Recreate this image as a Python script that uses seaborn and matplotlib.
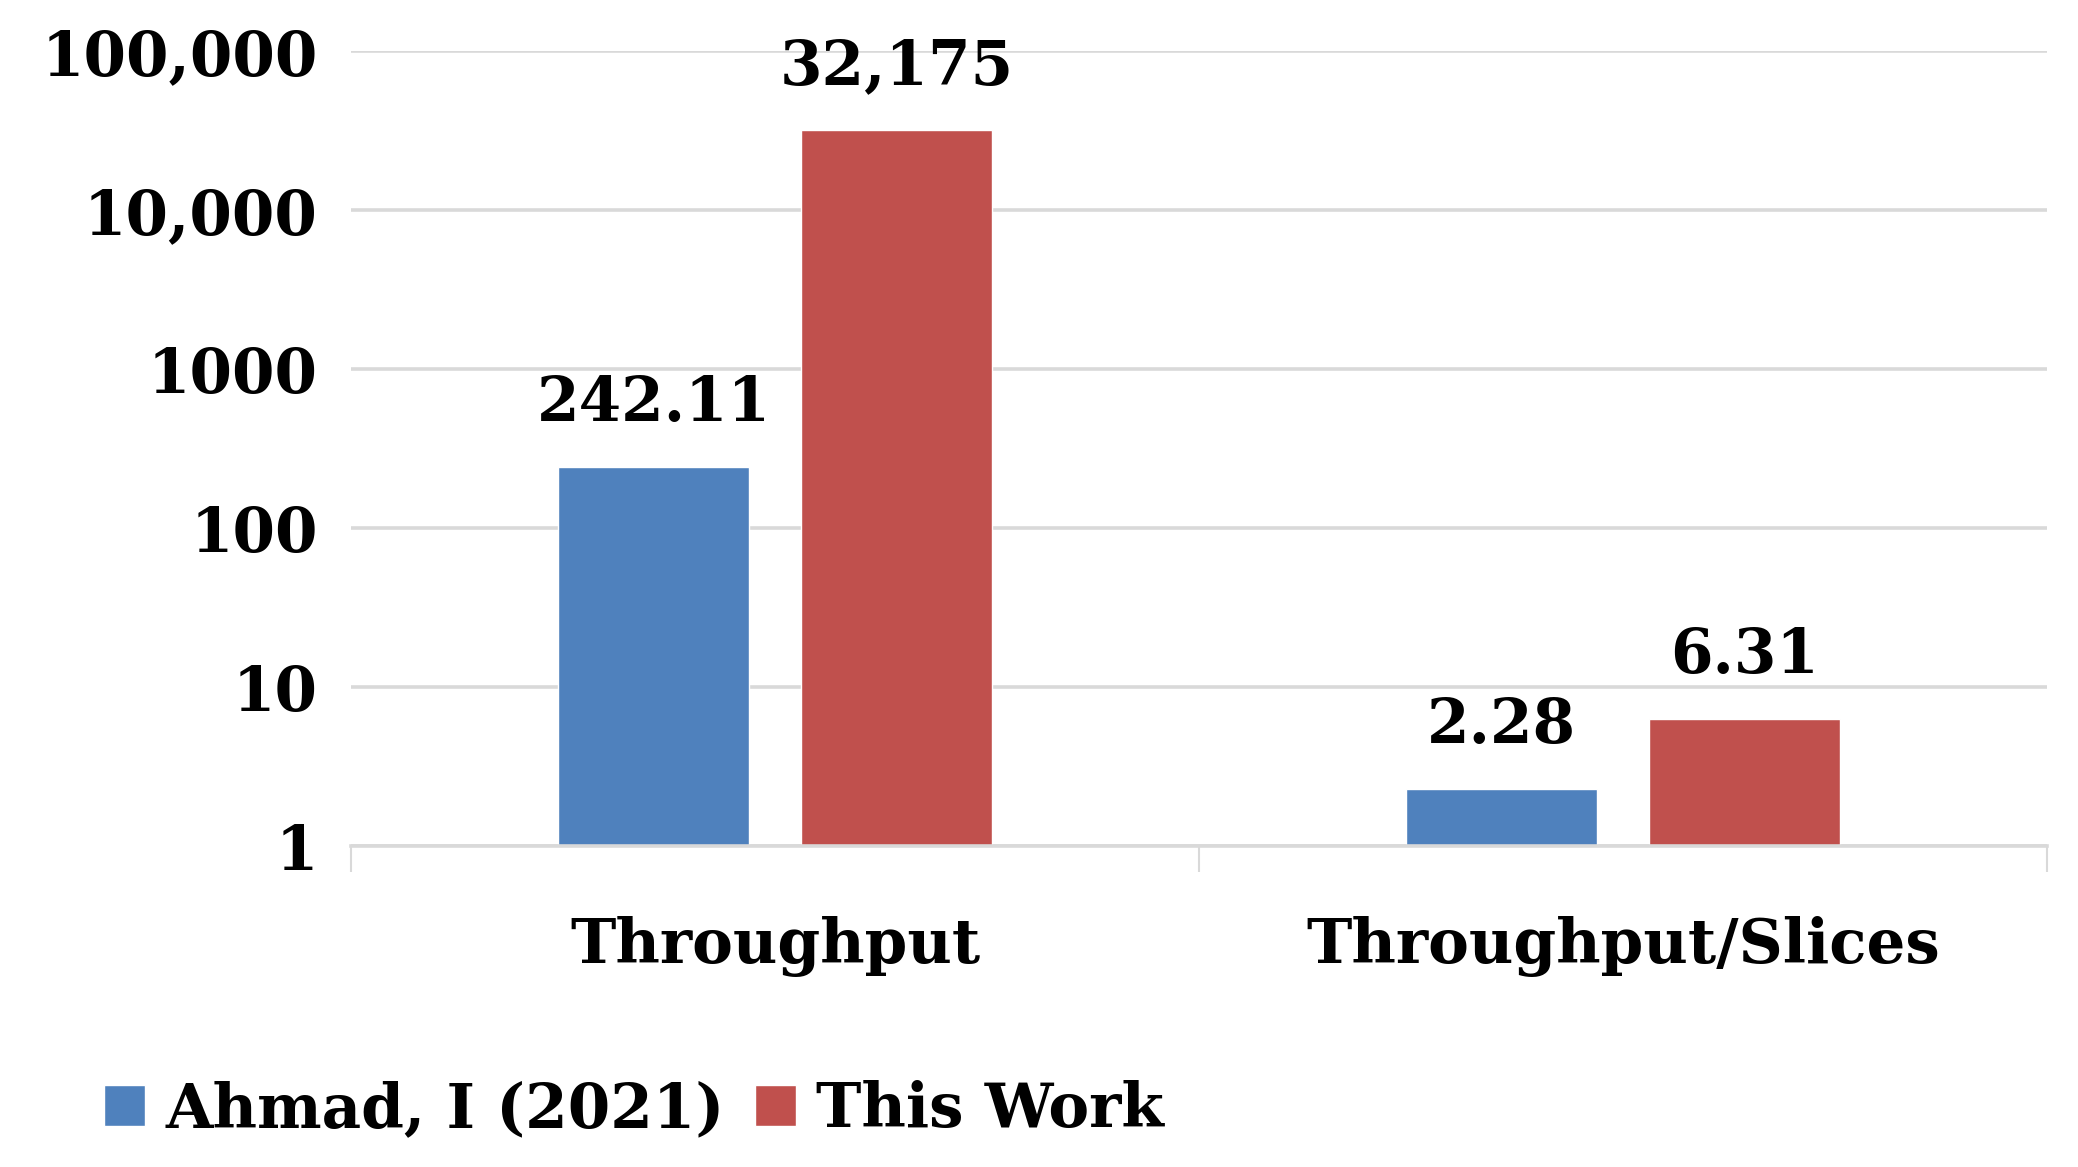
import pandas as pd
import matplotlib
matplotlib.use("Agg")
import matplotlib.pyplot as plt
from matplotlib.ticker import FixedLocator
import seaborn as sns

# chart data
categories = ["Throughput", "Throughput/Slices"]
series_names = ["Ahmad, I (2021)", "This Work"]
ahmad_values = [242.11, 2.28]
this_work_values = [32175, 6.31]
value_labels = {"Ahmad, I (2021)": ["242.11", "2.28"],
                "This Work": ["32,175", "6.31"]}
y_ticks = [1, 10, 100, 1000, 10000, 100000]
y_tick_labels = ["1", "10", "100", "1000", "10,000", "100,000"]
colors = ["#4F81BD", "#C0504D"]


def main():
    df = pd.DataFrame({
        "category": categories * 2,
        "series": [series_names[0]] * 2 + [series_names[1]] * 2,
        "value": ahmad_values + this_work_values,
    })

    sns.set_theme(style="white")
    plt.rcParams["font.family"] = ["DejaVu Serif"]
    plt.rcParams["font.weight"] = "bold"
    plt.rcParams["text.color"] = "black"
    plt.rcParams["xtick.color"] = "black"
    plt.rcParams["ytick.color"] = "black"
    plt.rcParams["xtick.labelcolor"] = "black"
    plt.rcParams["ytick.labelcolor"] = "black"

    fig = plt.figure(figsize=(20.78, 11.67), dpi=100)
    ax = fig.add_axes([0.169, 0.275, 0.816, 0.681])

    sns.barplot(data=df, x="category", y="value", hue="series",
                palette=colors, width=0.572, gap=0.213, ax=ax,
                saturation=1, legend=True)
    ax.set_yscale("log")
    ax.set_ylim(1, 100000)
    ax.set_xlim(-0.5, 1.5)

    # value labels above bars
    for cont, name in zip(ax.containers, series_names):
        for bar, lab in zip(cont, value_labels[name]):
            ax.annotate(lab, (bar.get_x() + bar.get_width() / 2, bar.get_height()),
                        xytext=(0, 33), textcoords="offset points",
                        ha="center", va="baseline", fontsize=44,
                        fontweight="bold", color="black")

    ax.yaxis.set_major_locator(FixedLocator(y_ticks))
    ax.set_yticklabels(y_tick_labels)
    ax.yaxis.set_minor_locator(FixedLocator([]))
    ax.tick_params(axis="y", length=0, pad=24, labelsize=44,
                   labelcolor="black")
    ax.grid(axis="y", color="#d9d9d9", linewidth=2.6)
    ax.set_axisbelow(True)

    ax.xaxis.set_minor_locator(FixedLocator([-0.5, 0.5, 1.5]))
    ax.tick_params(axis="x", which="major", length=0, pad=50, labelsize=44,
                   labelcolor="black")
    ax.tick_params(axis="x", which="minor", length=19, width=1.5,
                   color="#d9d9d9", direction="out", bottom=True)
    ax.set_xlabel("")
    ax.set_ylabel("")
    for side in ["left", "right", "top"]:
        ax.spines[side].set_visible(False)
    ax.spines["bottom"].set_color("#d9d9d9")
    ax.spines["bottom"].set_linewidth(2.6)

    handles, labels = ax.get_legend_handles_labels()
    ax.get_legend().remove()
    fig.legend(handles, labels, loc="center left",
               bbox_to_anchor=(0.05, 0.049), ncol=2, frameon=False,
               fontsize=44, handlelength=0.67, handleheight=0.67,
               handletextpad=0.33, columnspacing=0.5,
               borderpad=0, borderaxespad=0, labelcolor="black")

    fig.savefig("out.png", dpi=100)
    plt.close(fig)


if __name__ == "__main__":
    main()
